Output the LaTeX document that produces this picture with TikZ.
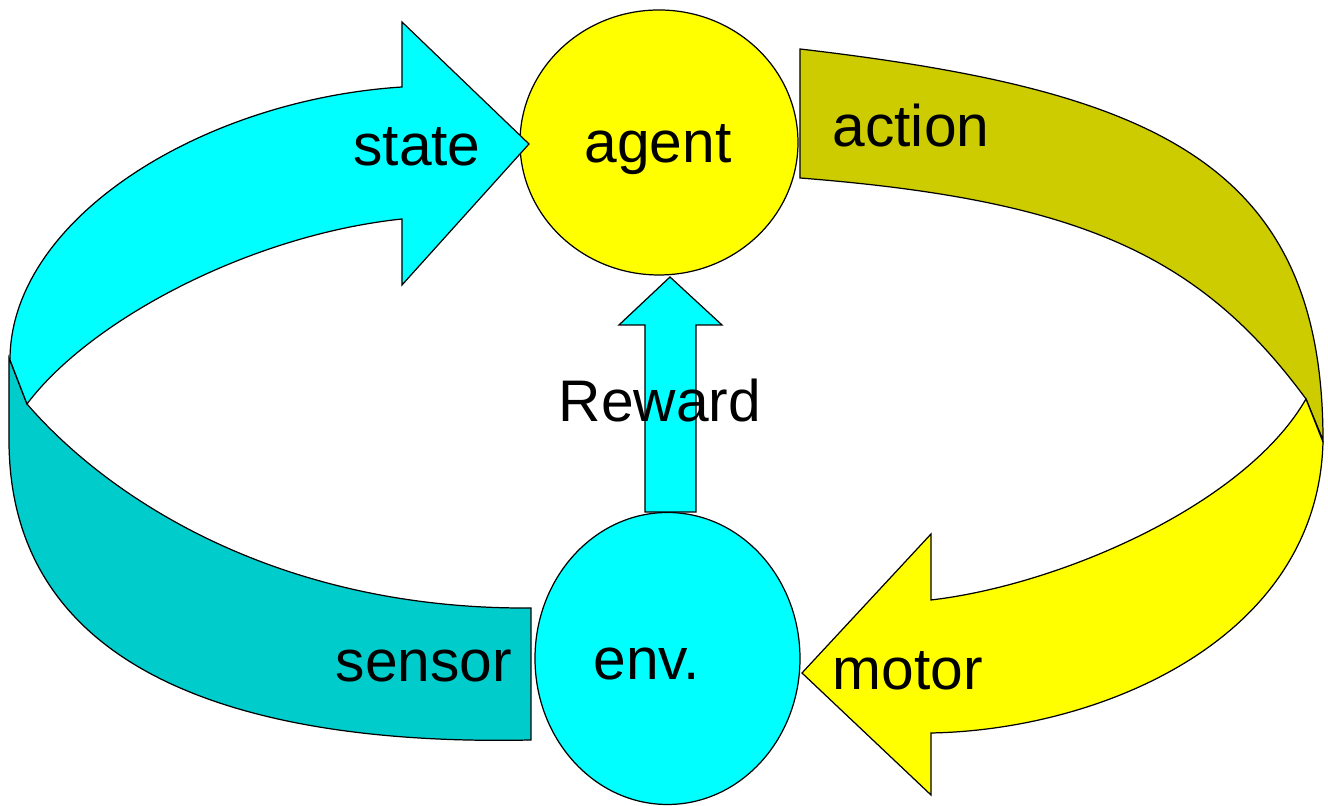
\documentclass[tikz,border=0pt]{standalone}
\usepackage{fontspec}
\setmainfont{Liberation Sans}
\usetikzlibrary{shapes.geometric}

\newlength{\du}
\setlength{\du}{0.1mm}

\definecolor{statecolor}{rgb}{0.000000, 1.000000, 1.000000}
\definecolor{sensorcolor}{rgb}{0.000000, 0.800000, 0.800000}
\definecolor{motorcolor}{rgb}{1.000000, 1.000000, 0.000000}
\definecolor{actioncolor}{rgb}{0.800000, 0.800000, 0.000000}

\tikzset{
  band/.style={draw=black, line width=0.35pt, line join=miter},
  blob/.style={ellipse, draw=black, line width=0.35pt, inner sep=0pt},
  caption/.style={anchor=base, inner sep=0pt, font=\fontsize{16.7pt}{20pt}\selectfont}
}

\begin{document}
\begin{tikzpicture}
\pgftransformxscale{1.000000}
\pgftransformyscale{-1.000000}
\useasboundingbox (0\du,0\du) rectangle (1328\du,806\du);
% agent and env.
\node[blob, fill=motorcolor, minimum width=278\du, minimum height=265\du] (agent) at (659\du,142.5\du) {};
\node[blob, fill=statecolor, minimum width=265\du, minimum height=292\du] (env) at (667.5\du,658.5\du) {};
% cyan ribbon, back side
\filldraw[band, fill=sensorcolor] (9\du,358\du) -- (27\du,404\du) .. controls (110\du,500\du) and (280\du,610\du) .. (531\du,608\du) -- (531\du,740\du) .. controls (300\du,745\du) and (9\du,700\du) .. (9\du,440\du) -- cycle;
% cyan ribbon, state arrow
\filldraw[band, fill=statecolor] (10\du,360\du) .. controls (10\du,220\du) and (200\du,100\du) .. (402\du,87\du) -- (402\du,22\du) -- (529\du,144\du) -- (402\du,285\du) -- (402\du,219\du) .. controls (250\du,235\du) and (90\du,320\du) .. (27\du,404\du) -- cycle;
% yellow ribbon, action part
\filldraw[band, fill=actioncolor] (800\du,49\du) .. controls (1150\du,90\du) and (1323\du,160\du) .. (1323\du,440\du) -- (1306\du,399\du) .. controls (1200\du,255\du) and (1080\du,200\du) .. (800\du,178\du) -- cycle;
% yellow ribbon, motor arrow
\filldraw[band, fill=motorcolor] (1306\du,399\du) -- (1323\du,442\du) .. controls (1318\du,640\du) and (1100\du,730\du) .. (931\du,733\du) -- (931\du,795\du) -- (802\du,673\du) -- (931\du,534\du) -- (931\du,600\du) .. controls (1060\du,585\du) and (1245\du,505\du) .. (1306\du,399\du) -- cycle;
% reward arrow
\coordinate (rwfoot) at (670\du,512\du);
\coordinate (rwtip) at (670\du,277\du);
\filldraw[band, fill=statecolor] (rwfoot) ++(-25\du,0\du) -- ++(51\du,0\du) -- ++(0\du,-187\du) -- ++(26\du,0\du) -- (rwtip) -- ++(-51\du,48\du) -- ++(26\du,0\du) -- cycle;
% labels
\node[caption] (statelbl) at (417\du,166\du) {state};
\node[caption] (agentlbl) at (658\du,163\du) {agent};
\node[caption] (actionlbl) at (911\du,147\du) {action};
\node[caption] (rewardlbl) at (660\du,422\du) {Reward};
\node[caption] (sensorlbl) at (424\du,682\du) {sensor};
\node[caption] (envlbl) at (647\du,680\du) {env.};
\node[caption] (motorlbl) at (908\du,690\du) {motor};
\end{tikzpicture}
\end{document}
